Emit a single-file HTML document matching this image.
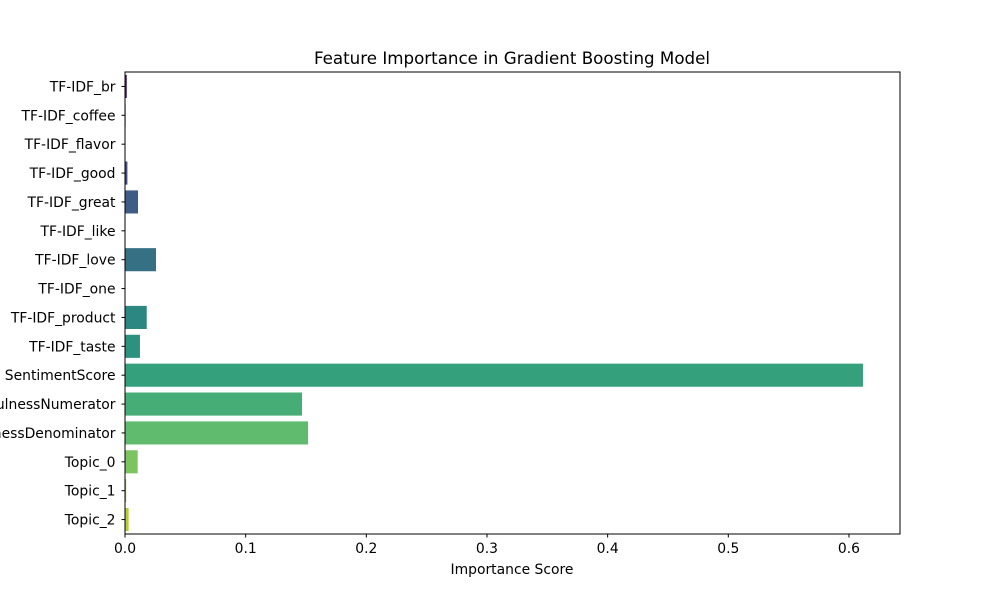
<!DOCTYPE html>
<html><head><meta charset="utf-8"><style>
body{margin:0;background:#fff;}
svg text{font-family:"DejaVu Sans","Liberation Sans",sans-serif;fill:#000;}
</style></head><body>
<svg id="chart" width="1000" height="600" xmlns="http://www.w3.org/2000/svg">
<rect width="1000" height="600" fill="#fff"/>
<text x="512" y="64" text-anchor="middle" font-size="16.7">Feature Importance in Gradient Boosting Model</text>
<g id="bars"></g>
<g id="yticks"></g>
<g id="xticks"></g>
<rect x="125" y="72" width="775" height="462" fill="none" stroke="#000" stroke-width="1"/>
<text x="512" y="574" text-anchor="middle" font-size="13.9">Importance Score</text>
</svg>
<script>
const categories=["TF-IDF_br","TF-IDF_coffee","TF-IDF_flavor","TF-IDF_good","TF-IDF_great","TF-IDF_like","TF-IDF_love","TF-IDF_one","TF-IDF_product","TF-IDF_taste","SentimentScore","HelpfulnessNumerator","HelpfulnessDenominator","Topic_0","Topic_1","Topic_2"];
const values=[0.0015,0.0005,0.0003,0.002,0.0108,0.0003,0.0257,0.0003,0.018,0.0124,0.6116,0.1467,0.1517,0.0105,0.001,0.003];
const xTicks=[0,0.1,0.2,0.3,0.4,0.5,0.6];
const xTickLabels=["0.0","0.1","0.2","0.3","0.4","0.5","0.6"];
const viridis=["#481c6e","#472d7b","#433e85","#3d4d8a","#365c8d","#31688e","#2b758e","#26828e","#21918c","#1f9e89","#27ad81","#3aba76","#56c667","#75d054","#9bd93c","#c5e021"];
const L=125,R=900,T=72,B=534,XMAX=0.6423;
const x=v=>L+v/XMAX*(R-L);
const band=(B-T)/categories.length;
const y=i=>T+i*band;
const NS="http://www.w3.org/2000/svg";
function desat(hex,p){let r=parseInt(hex.substr(1,2),16)/255,g=parseInt(hex.substr(3,2),16)/255,b=parseInt(hex.substr(5,2),16)/255;
let mx=Math.max(r,g,b),mn=Math.min(r,g,b),l=(mx+mn)/2,d=mx-mn,s=0,h=0;
if(d>0){s=l>0.5?d/(2-mx-mn):d/(mx+mn);h=mx===r?((g-b)/d+(g<b?6:0)):mx===g?((b-r)/d+2):((r-g)/d+4);h/=6;}
s*=p;const q=l<0.5?l*(1+s):l+s-l*s,pp=2*l-q;
const f=t=>{if(t<0)t+=1;if(t>1)t-=1;if(t<1/6)return pp+(q-pp)*6*t;if(t<1/2)return q;if(t<2/3)return pp+(q-pp)*(2/3-t)*6;return pp;};
return "rgb("+[f(h+1/3),f(h),f(h-1/3)].map(c=>Math.round(c*255)).join(",")+")";}
const bars=document.getElementById('bars'),yt=document.getElementById('yticks'),xt=document.getElementById('xticks');
categories.forEach((c,i)=>{
 const r=document.createElementNS(NS,'rect');
 
 
 r.setAttribute('x',x(0));r.setAttribute('y',y(i)+band*0.1);
 r.setAttribute('width',Math.max(0,x(values[i])-x(0)));r.setAttribute('height',band*0.8);
 r.setAttribute('fill',desat(viridis[i],0.8));bars.appendChild(r);
 const cy=y(i)+band/2;
 const tk=document.createElementNS(NS,'line');
 
 
 tk.setAttribute('x1',L-3.5);tk.setAttribute('x2',L);tk.setAttribute('y1',cy);tk.setAttribute('y2',cy);tk.setAttribute('stroke','#000');yt.appendChild(tk);
 const t=document.createElementNS(NS,'text');
 
 
 t.setAttribute('x',L-9.5);t.setAttribute('y',cy+5);t.setAttribute('text-anchor','end');t.setAttribute('font-size','13.9');t.textContent=c;yt.appendChild(t);
});
xTicks.forEach((v,i)=>{
 const tk=document.createElementNS(NS,'line');
 
 
 tk.setAttribute('x1',x(v));tk.setAttribute('x2',x(v));tk.setAttribute('y1',B);tk.setAttribute('y2',B+3.5);tk.setAttribute('stroke','#000');xt.appendChild(tk);
 const t=document.createElementNS(NS,'text');
 
 
 t.setAttribute('x',x(v));t.setAttribute('y',B+19);t.setAttribute('text-anchor','middle');t.setAttribute('font-size','13.9');t.textContent=xTickLabels[i];xt.appendChild(t);
});
</script>
</body></html>
